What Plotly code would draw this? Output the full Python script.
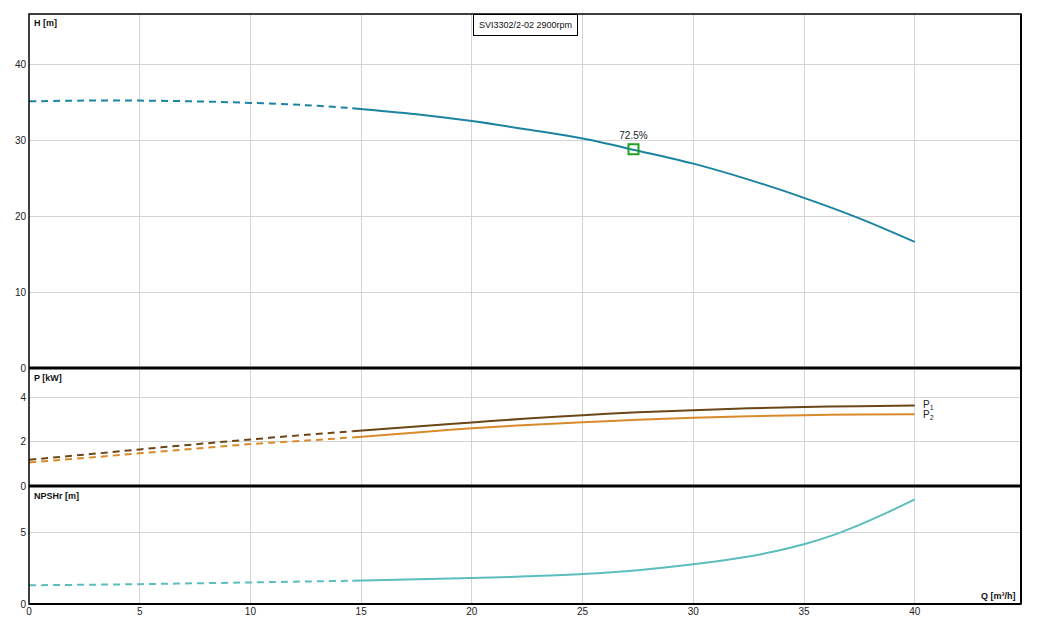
import plotly.graph_objects as go

# ---------------- data ----------------
split_q = 14.6  # end of dashed (extrapolated) region

q_h = [0, 2.5, 5, 7.5, 10, 12.5, 14.6, 17.5, 20, 22.5, 25, 27.5, 30, 32.5, 35, 37.5, 40]
h_vals = [35.1, 35.2, 35.2, 35.1, 34.9, 34.6, 34.2, 33.4, 32.5, 31.4, 30.2, 28.6, 26.9, 24.8, 22.4, 19.7, 16.6]

q_p = [0, 2.5, 5, 7.5, 10, 12.5, 14.6, 17.5, 20, 22.5, 25, 27.5, 30, 32.5, 35, 37.5, 40]
p1_vals = [1.19, 1.42, 1.66, 1.89, 2.11, 2.32, 2.48, 2.70, 2.88, 3.06, 3.21, 3.34, 3.44, 3.52, 3.58, 3.62, 3.65]
p2_vals = [1.07, 1.27, 1.48, 1.69, 1.90, 2.06, 2.20, 2.43, 2.62, 2.77, 2.89, 3.00, 3.09, 3.16, 3.21, 3.24, 3.25]

q_n = [0, 5, 10, 14.6, 20, 22.5, 25, 27.5, 30, 32.5, 33.75, 35, 36.25, 37.5, 38.75, 40]
npsh_vals = [1.30, 1.38, 1.50, 1.62, 1.80, 1.92, 2.08, 2.35, 2.76, 3.30, 3.68, 4.15, 4.75, 5.50, 6.35, 7.27]

eta_q = [27.3]
eta_h = [28.8]
eta_label = ["72.5%"]

title_text = "SVI3302/2-02 2900rpm"
x_ticks = [0, 5, 10, 15, 20, 25, 30, 35, 40]
h_ticks = [0, 10, 20, 30, 40]
p_ticks = [0, 2, 4]
n_ticks = [0, 5]

# ---------------- styles ----------------
C_H = "#1b84a0"
C_P1 = "#6b4616"
C_P2 = "#d98a2b"
C_N = "#5cbdbd"
C_ETA = "#21a021"
FONT = "Liberation Sans"
DASH = "7px,5px"


def split(qs, vs):
    dq = [q for q in qs if q <= split_q]
    dv = [v for q, v in zip(qs, vs) if q <= split_q]
    sq = [q for q in qs if q >= split_q]
    sv = [v for q, v in zip(qs, vs) if q >= split_q]
    return dq, dv, sq, sv


fig = go.Figure()


def add_curve(qs, vs, color, xa, ya, width=2):
    dq, dv, sq, sv = split(qs, vs)
    fig.add_trace(go.Scatter(x=dq, y=dv, mode="lines", xaxis=xa, yaxis=ya,
                             line=dict(color=color, width=width, dash=DASH, shape="spline"),
                             showlegend=False, hoverinfo="skip"))
    fig.add_trace(go.Scatter(x=sq, y=sv, mode="lines", xaxis=xa, yaxis=ya,
                             line=dict(color=color, width=width, shape="spline"),
                             showlegend=False, hoverinfo="skip"))


add_curve(q_h, h_vals, C_H, "x", "y")
add_curve(q_p, p1_vals, C_P1, "x2", "y2")
add_curve(q_p, p2_vals, C_P2, "x2", "y2")
add_curve(q_n, npsh_vals, C_N, "x3", "y3")

fig.add_trace(go.Scatter(x=eta_q, y=eta_h, mode="markers+text", xaxis="x", yaxis="y",
                         marker=dict(symbol="square-open", size=10, color=C_ETA,
                                     line=dict(color=C_ETA, width=2)),
                         text=eta_label, textposition="top center",
                         textfont=dict(family=FONT, size=10, color="#222"),
                         showlegend=False, hoverinfo="skip"))

XR = [0, 44.8]
grid = "#d4d4d4"
tickfont = dict(family=FONT, size=10, color="#222")


def xax(show, anchor):
    d = dict(range=XR, tickvals=x_ticks, showticklabels=show, showgrid=True,
             gridcolor=grid, gridwidth=1, zeroline=False, showline=False,
             ticks="", tickfont=tickfont, anchor=anchor, domain=[0, 1])
    if anchor != "y":
        d["matches"] = "x"
    return d


def yax(rng, ticks, dom, anchor):
    return dict(range=rng, tickvals=ticks, showgrid=True, gridcolor=grid, gridwidth=1,
                zeroline=False, showline=False, ticks="", tickfont=tickfont,
                domain=dom, anchor=anchor, ticklabelstandoff=2)


# page body adds an 8px offset; compensate so plot area sits at x 29..1021, y 14..604
fig.update_layout(
    width=1026, height=613,
    margin=dict(l=21, r=13, t=6, b=17, autoexpand=False),
    paper_bgcolor="white", plot_bgcolor="white",
    font=dict(family=FONT, size=10, color="#222"),
    xaxis=xax(False, "y"),
    xaxis2=xax(False, "y2"),
    xaxis3=xax(True, "y3"),
    yaxis=yax([0, 46.6], h_ticks, [0.4, 1.0], "x"),
    yaxis2=yax([0, 5.35], p_ticks, [0.2, 0.4], "x2"),
    yaxis3=yax([0, 8.2], n_ticks, [0.0, 0.2], "x3"),
)

# borders and separators
shapes = [
    dict(type="rect", xref="paper", yref="paper", x0=0, x1=1, y0=0, y1=1,
         line=dict(color="black", width=1.5)),
    dict(type="line", xref="paper", yref="paper", x0=0, x1=1, y0=0.4, y1=0.4,
         line=dict(color="black", width=3)),
    dict(type="line", xref="paper", yref="paper", x0=0, x1=1, y0=0.2, y1=0.2,
         line=dict(color="black", width=3)),
    dict(type="line", xref="paper", yref="paper", x0=0, x1=1, y0=0, y1=0,
         line=dict(color="black", width=2)),
    dict(type="line", xref="paper", yref="paper", x0=1, x1=1, y0=0, y1=1,
         line=dict(color="black", width=2)),
]
fig.update_layout(shapes=shapes)

bold = dict(family=FONT, size=9, color="#111")
ann = [
    dict(text="<b>H [m]</b>", xref="paper", yref="paper", x=0, y=1, xanchor="left",
         yanchor="top", xshift=3, yshift=-2, showarrow=False, font=bold),
    dict(text="<b>P [kW]</b>", xref="paper", yref="paper", x=0, y=0.4, xanchor="left",
         yanchor="top", xshift=3, yshift=-3, showarrow=False, font=bold),
    dict(text="<b>NPSHr [m]</b>", xref="paper", yref="paper", x=0, y=0.2, xanchor="left",
         yanchor="top", xshift=3, yshift=-3, showarrow=False, font=bold),
    dict(text="<b>Q [m³/h]</b>", xref="paper", yref="paper", x=1, y=0, xanchor="right",
         yanchor="bottom", xshift=-3, yshift=1, showarrow=False, font=bold),
    dict(text=title_text, xref="paper", yref="paper", x=(525 - 29) / 992, y=1,
         xanchor="center", yanchor="top", showarrow=False,
         font=dict(family=FONT, size=9, color="#111"),
         bordercolor="black", borderwidth=1, borderpad=5, bgcolor="white"),
    dict(text="P<sub>1</sub>", x=q_p[-1], y=p1_vals[-1], xref="x2", yref="y2",
         xanchor="left", yanchor="middle", xshift=6, yshift=1, showarrow=False,
         font=dict(family=FONT, size=10, color="#222")),
    dict(text="P<sub>2</sub>", x=q_p[-1], y=p2_vals[-1], xref="x2", yref="y2",
         xanchor="left", yanchor="middle", xshift=6, yshift=-1, showarrow=False,
         font=dict(family=FONT, size=10, color="#222")),
]
fig.update_layout(annotations=ann)

fig.write_html("out.html")
